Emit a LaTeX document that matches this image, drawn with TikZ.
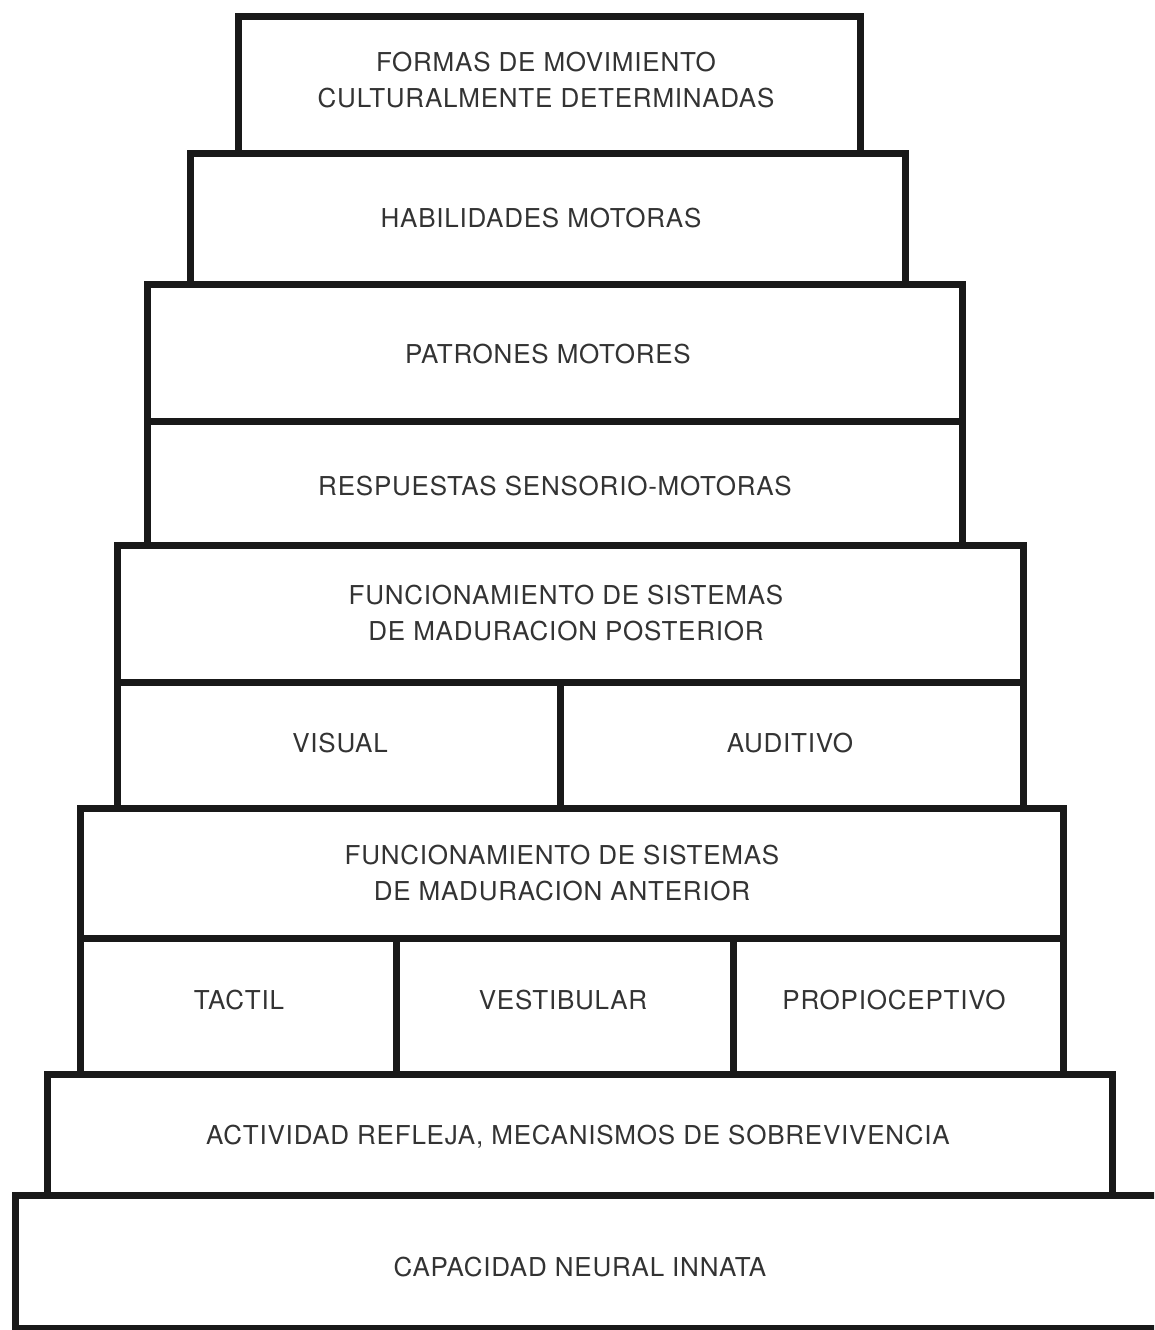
\documentclass[tikz,border=0pt]{standalone}
\usepackage{fontspec}
\setmainfont[LetterSpace=3]{TeX Gyre Heros}
\begin{document}
\begin{tikzpicture}[x=1pt,y=-1pt,
  tier/.style={draw=black!90, line width=7pt, inner sep=0pt, outer sep=0pt},
  lbl/.style={inner sep=0pt, align=center, text=black!80,
    font=\fontsize{26}{36}\selectfont, text depth=0pt},
]
\useasboundingbox (0,0) rectangle (1154,1330);
\clip (0,0) rectangle (1154,1330);
% boxes
\node[tier, minimum width=622, minimum height=136] (b1) at (549,85) {};
\node[tier, minimum width=715, minimum height=131] (b2) at (547.5,218.5) {};
\node[tier, minimum width=815, minimum height=137] (b3) at (554.5,352.5) {};
\node[tier, minimum width=815, minimum height=124] (b4) at (554.5,483) {};
\node[tier, minimum width=906, minimum height=137] (b5) at (570,613.5) {};
\node[tier, minimum width=443, minimum height=126] (b6a) at (338.5,745) {};
\node[tier, minimum width=463, minimum height=126] (b6b) at (791.5,745) {};
\node[tier, minimum width=983, minimum height=130] (b7) at (571.5,873) {};
\node[tier, minimum width=316, minimum height=136] (b8a) at (238,1006) {};
\node[tier, minimum width=337, minimum height=136] (b8b) at (564.5,1006) {};
\node[tier, minimum width=330, minimum height=136] (b8c) at (898,1006) {};
\node[tier, minimum width=1065, minimum height=121] (b9) at (579.5,1134.5) {};
\node[tier, minimum width=1155, minimum height=133] (b10) at (592.5,1261.5) {};
% labels
\node[lbl] (t1) at (546,80) {FORMAS DE MOVIMIENTO\\CULTURALMENTE DETERMINADAS};
\node[lbl] (t2) at (541,218) {HABILIDADES MOTORAS};
\node[lbl] (t3) at (548,354) {PATRONES MOTORES};
\node[lbl] (t4) at (555,486) {RESPUESTAS SENSORIO-MOTORAS};
\node[lbl] (t5) at (566,613) {FUNCIONAMIENTO DE SISTEMAS\\DE MADURACION POSTERIOR};
\node[lbl] (t6a) at (340,743) {VISUAL};
\node[lbl] (t6b) at (790,743) {AUDITIVO};
\node[lbl] (t7) at (562,873) {FUNCIONAMIENTO DE SISTEMAS\\DE MADURACION ANTERIOR};
\node[lbl] (t8a) at (239,1000) {TACTIL};
\node[lbl] (t8b) at (563,1000) {VESTIBULAR};
\node[lbl] (t8c) at (894,1000) {PROPIOCEPTIVO};
\node[lbl] (t9) at (578,1135) {ACTIVIDAD REFLEJA, MECANISMOS DE SOBREVIVENCIA};
\node[lbl] (t10) at (580,1267) {CAPACIDAD NEURAL INNATA};
\end{tikzpicture}
\end{document}
